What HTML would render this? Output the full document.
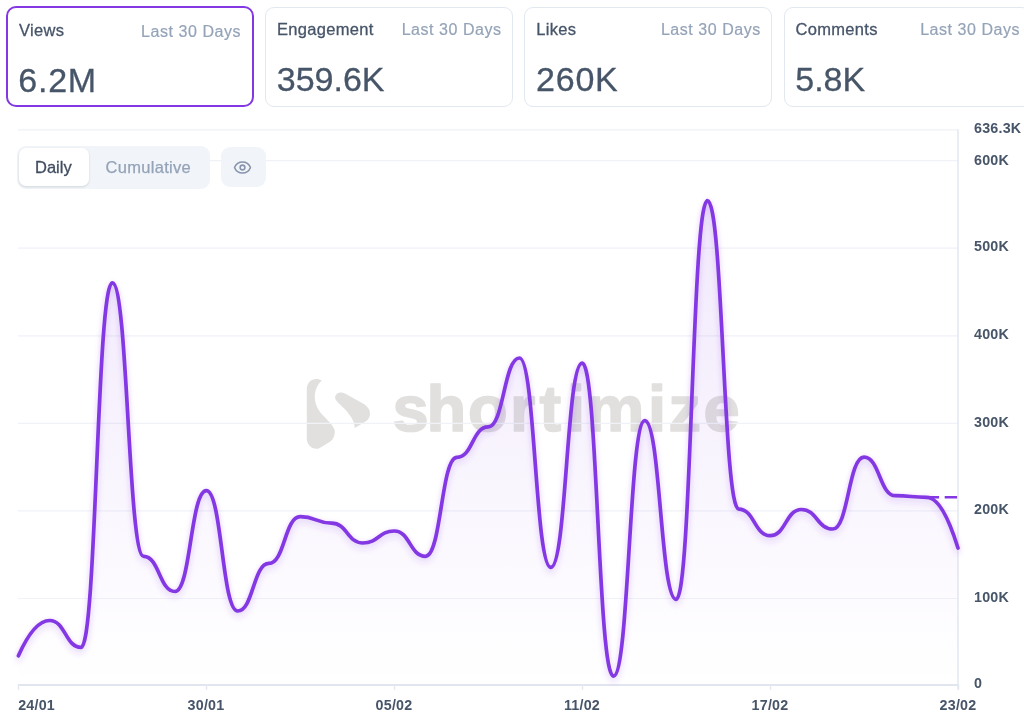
<!DOCTYPE html>
<html lang="en">
<head>
<meta charset="utf-8">
<title>Shortimize analytics</title>
<style>
html,body{margin:0;padding:0;background:#fff;}
body{width:1024px;height:722px;position:relative;overflow:hidden;font-family:"Liberation Sans",sans-serif;color:#475569;}
.card{position:absolute;top:6.5px;width:247.8px;height:100.5px;box-sizing:border-box;border:1px solid #e2e8f0;border-radius:9px;background:#fff;}
.card.sel{border:2.4px solid #8338e3;border-radius:10px;top:6px;height:101.2px;margin-left:-0.3px;width:248.2px}
.card span{position:absolute;white-space:nowrap;}
.card .lbl{left:11px;top:12px;font-size:16.5px;line-height:18px;color:#475569;letter-spacing:0.3px;-webkit-text-stroke:0.3px #475569;}
.card .per{right:10.2px;top:13.5px;font-size:16px;line-height:18px;color:#94a3b8;letter-spacing:0.55px;-webkit-text-stroke:0.2px #94a3b8;}
.card .val{left:10.7px;top:53px;font-size:34px;line-height:36px;color:#475569;letter-spacing:0px;-webkit-text-stroke:0.3px #475569;}
.card.sel .lbl{top:13.2px;}.card.sel .per{top:14.6px;right:10.6px}
.card.sel .lbl{left:11.5px}
.card.sel .val{top:54px;}
.toggle{position:absolute;left:17px;top:146px;width:193px;height:42.5px;background:#f1f5f9;border-radius:9px;}
.toggle .on{position:absolute;left:1.5px;top:2px;width:70.5px;height:38px;background:#fff;border-radius:7px;box-shadow:0 1px 3px rgba(15,23,42,.09),0 1px 2px rgba(15,23,42,.05);}
.toggle span{position:absolute;top:11px;font-size:16.5px;line-height:20px;white-space:nowrap;}
.toggle .t1{left:18px;color:#414d61;-webkit-text-stroke:0.3px #414d61;}
.toggle .t2{left:88.5px;color:#94a3b8;letter-spacing:0.3px;-webkit-text-stroke:0.25px #94a3b8;}
.eye{position:absolute;left:221px;top:147px;width:45px;height:40px;background:#f1f5f9;border-radius:9px;}
.eye svg{position:absolute;left:12.4px;top:10.5px;}
svg.chart{position:absolute;left:0;top:0;}
svg.chart text{font-family:"Liberation Sans",sans-serif;font-weight:700;font-size:14.3px;fill:#475569;letter-spacing:0.2px;}
</style>
</head>
<body>
<svg class="chart" width="1024" height="722" viewBox="0 0 1024 722">
<defs>
<linearGradient id="ag" gradientUnits="userSpaceOnUse" x1="0" y1="200" x2="0" y2="685">
<stop offset="0" stop-color="#8338e3" stop-opacity="0.115"/>
<stop offset="1" stop-color="#8338e3" stop-opacity="0.0"/>
</linearGradient>
<filter id="glow" x="-5%" y="-5%" width="110%" height="112%">
<feGaussianBlur in="SourceGraphic" stdDeviation="3.2" result="b"/>
<feOffset in="b" dy="4" result="bo"/>
<feComponentTransfer in="bo" result="b2"><feFuncA type="linear" slope="0.2"/></feComponentTransfer>
<feGaussianBlur in="SourceGraphic" stdDeviation="2" result="c"/>
<feComponentTransfer in="c" result="c2"><feFuncA type="linear" slope="0.10"/></feComponentTransfer>
<feMerge><feMergeNode in="b2"/><feMergeNode in="c2"/><feMergeNode in="SourceGraphic"/></feMerge>
</filter>
</defs>
<g id="wm" fill="#e1e0de">
<path d="M306.8,389C306.8,383 311,379 316.5,379C318.5,379 320.5,379.6 321.8,380.6C317,385 314.8,391 314.8,397C314.8,405 319,411.5 324,416.5C327,419.5 329,421.5 331,424C334,427.5 335,430 334.8,432.5C334.5,437 332.5,440 330,441.8L321.8,446.7C320,447.8 318.5,448.8 316.5,448.8C311,448.8 306.8,444.5 306.8,438.6Z"/>
<path d="M335.1,397.5C335,394.5 338,392.2 341.3,392.4C342.8,392.5 343.8,392.9 345,393.5L362.5,403.2C367,405.7 370,409 370,413.5C370,417 368.5,419.7 366,421.2L354.7,428.1C354.5,425 354,422.5 353,420.5C351,416.5 349,414 347,411.5C344,408 341,405.5 338.5,403C336.500,401 335.2,399.5 335.1,397.5Z"/>
<text x="392.5 426.5 468 510 539.5 567 586.5 648 668.5 703.5" y="430.8" style="font-size:65px;font-weight:700;fill:#e1e0de;stroke:#e1e0de;stroke-width:1.6px;stroke-linejoin:round">shortimize</text>
</g>
<g stroke="#f0f2f7" stroke-width="1.2"><line x1="18" x2="958" y1="129.8" y2="129.8"/><line x1="18" x2="958" y1="160.6" y2="160.6"/><line x1="18" x2="958" y1="248.2" y2="248.2"/><line x1="18" x2="958" y1="335.8" y2="335.8"/><line x1="18" x2="958" y1="423.4" y2="423.4"/><line x1="18" x2="958" y1="510.9" y2="510.9"/><line x1="18" x2="958" y1="598.5" y2="598.5"/></g>
<g stroke="#d6dcea" stroke-width="1.5"><line x1="18" x2="958.7" y1="685" y2="685"/></g><line x1="958" x2="958" y1="129.3" y2="689.8" stroke="#e2e6f0" stroke-width="1.4"/><g stroke="#e4e8f1" stroke-width="1.5"><line x1="18.5" x2="18.5" y1="684.2" y2="689.8"/><line x1="206.5" x2="206.5" y1="684.2" y2="689.8"/><line x1="394.5" x2="394.5" y1="684.2" y2="689.8"/><line x1="582.5" x2="582.5" y1="684.2" y2="689.8"/><line x1="770.5" x2="770.5" y1="684.2" y2="689.8"/><line x1="958.5" x2="958.5" y1="684.2" y2="689.8"/></g>
<path d="M18.40,655.80C28.84,632.27,39.28,620.50,49.72,620.50C65.38,620.50,65.38,647.30,81.04,647.30C96.70,647.30,96.70,282.80,112.36,282.80C128.02,282.80,128.02,556.30,143.68,556.30C159.34,556.30,159.34,591.50,175.00,591.50C190.66,591.50,190.66,490.70,206.32,490.70C221.98,490.70,221.98,611.00,237.64,611.00C253.30,611.00,253.30,563.40,268.96,563.40C284.62,563.40,284.62,516.70,300.28,516.70C315.94,516.70,315.94,523.10,331.60,523.10C347.26,523.10,347.26,543.00,362.92,543.00C378.58,543.00,378.58,531.00,394.24,531.00C409.90,531.00,409.90,556.30,425.56,556.30C441.22,556.30,441.22,457.40,456.88,457.40C472.54,457.40,472.54,426.80,488.20,426.80C503.86,426.80,503.86,358.00,519.52,358.00C535.18,358.00,535.18,567.40,550.84,567.40C566.50,567.40,566.50,363.20,582.16,363.20C597.82,363.20,597.82,676.20,613.48,676.20C629.14,676.20,629.14,420.60,644.80,420.60C660.46,420.60,660.46,599.40,676.12,599.40C691.78,599.40,691.78,200.70,707.44,200.70C723.10,200.70,723.10,509.10,738.76,509.10C754.42,509.10,754.42,535.70,770.08,535.70C785.74,535.70,785.74,509.50,801.40,509.50C817.06,509.50,817.06,529.00,832.72,529.00C848.38,529.00,848.38,457.20,864.04,457.20C879.70,457.20,879.70,495.70,895.36,495.70C911.02,495.70,911.02,497.30,926.68,497.30C937.12,497.30,947.56,514.20,958.00,548.00L958.00,685L18.40,685Z" fill="url(#ag)"/>
<g filter="url(#glow)">
<path d="M18.40,655.80C28.84,632.27,39.28,620.50,49.72,620.50C65.38,620.50,65.38,647.30,81.04,647.30C96.70,647.30,96.70,282.80,112.36,282.80C128.02,282.80,128.02,556.30,143.68,556.30C159.34,556.30,159.34,591.50,175.00,591.50C190.66,591.50,190.66,490.70,206.32,490.70C221.98,490.70,221.98,611.00,237.64,611.00C253.30,611.00,253.30,563.40,268.96,563.40C284.62,563.40,284.62,516.70,300.28,516.70C315.94,516.70,315.94,523.10,331.60,523.10C347.26,523.10,347.26,543.00,362.92,543.00C378.58,543.00,378.58,531.00,394.24,531.00C409.90,531.00,409.90,556.30,425.56,556.30C441.22,556.30,441.22,457.40,456.88,457.40C472.54,457.40,472.54,426.80,488.20,426.80C503.86,426.80,503.86,358.00,519.52,358.00C535.18,358.00,535.18,567.40,550.84,567.40C566.50,567.40,566.50,363.20,582.16,363.20C597.82,363.20,597.82,676.20,613.48,676.20C629.14,676.20,629.14,420.60,644.80,420.60C660.46,420.60,660.46,599.40,676.12,599.40C691.78,599.40,691.78,200.70,707.44,200.70C723.10,200.70,723.10,509.10,738.76,509.10C754.42,509.10,754.42,535.70,770.08,535.70C785.74,535.70,785.74,509.50,801.40,509.50C817.06,509.50,817.06,529.00,832.72,529.00C848.38,529.00,848.38,457.20,864.04,457.20C879.70,457.20,879.70,495.70,895.36,495.70C911.02,495.70,911.02,497.30,926.68,497.30C937.12,497.30,947.56,514.20,958.00,548.00" fill="none" stroke="#8338e3" stroke-width="3.7" stroke-linejoin="round" stroke-linecap="round"/>
</g>
<line x1="926.7" x2="957.5" y1="497.2" y2="497.2" stroke="#8338e3" stroke-width="2.5" stroke-dasharray="12.4 5.6"/>
<g><text x="974" y="133.0">636.3K</text><text x="974" y="164.8">600K</text><text x="974" y="251.4">500K</text><text x="974" y="339.0">400K</text><text x="974" y="426.6">300K</text><text x="974" y="514.1">200K</text><text x="974" y="601.7">100K</text><text x="974" y="688.4">0</text></g>
<g><text x="18.2" y="709.5" text-anchor="start">24/01</text><text x="206" y="709.5" text-anchor="middle">30/01</text><text x="394" y="709.5" text-anchor="middle">05/02</text><text x="582" y="709.5" text-anchor="middle">11/02</text><text x="770" y="709.5" text-anchor="middle">17/02</text><text x="958" y="709.5" text-anchor="middle">23/02</text></g>
</svg>
<div class="card sel" style="left:5.80px"><span class="lbl">Views</span><span class="per">Last 30 Days</span><span class="val" style="letter-spacing:0.80px">6.2M</span></div>
<div class="card" style="left:265.05px"><span class="lbl">Engagement</span><span class="per">Last 30 Days</span><span class="val" style="letter-spacing:0.00px">359.6K</span></div>
<div class="card" style="left:524.30px"><span class="lbl">Likes</span><span class="per">Last 30 Days</span><span class="val" style="letter-spacing:0.80px">260K</span></div>
<div class="card" style="left:783.55px"><span class="lbl">Comments</span><span class="per">Last 30 Days</span><span class="val" style="letter-spacing:0.00px">5.8K</span></div>

<div class="toggle"><div class="on"></div><span class="t1">Daily</span><span class="t2">Cumulative</span></div>
<div class="eye"><svg width="19" height="19" viewBox="0 0 24 24" fill="none" stroke="#8794ab" stroke-width="2" stroke-linecap="round" stroke-linejoin="round"><path d="M2.062 12.348a1 1 0 0 1 0-.696 10.75 10.75 0 0 1 19.876 0 1 1 0 0 1 0 .696 10.75 10.75 0 0 1-19.876 0"/><circle cx="12" cy="12" r="3"/></svg></div>
</body>
</html>
